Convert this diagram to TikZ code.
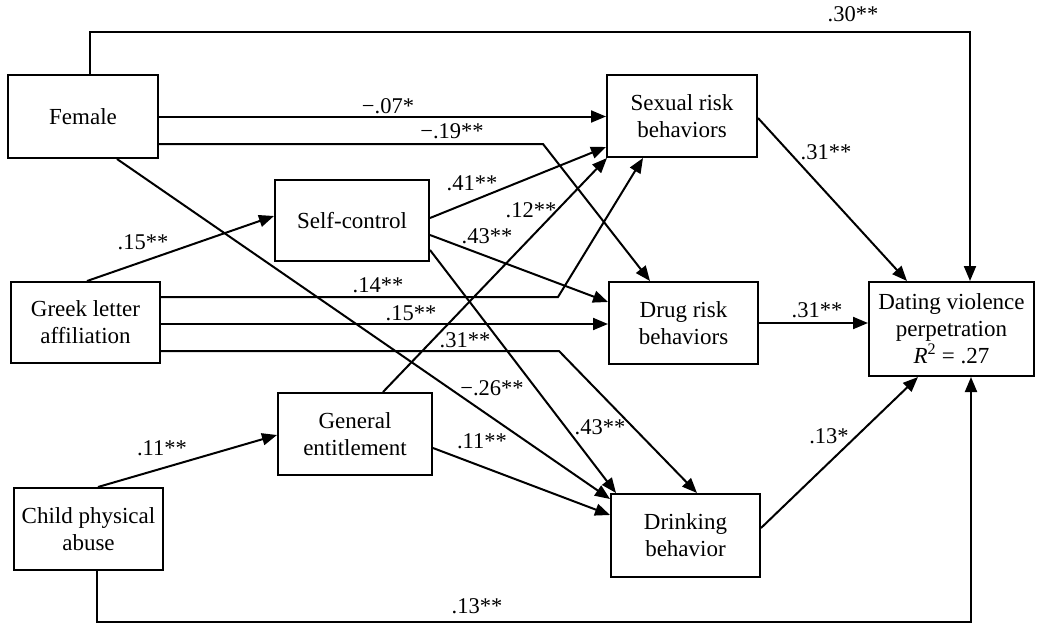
\documentclass[tikz,border=0pt]{standalone}
\usepackage{fontspec}
\setmainfont{Liberation Serif}
\usetikzlibrary{arrows.meta,calc}
\begin{document}
\begin{tikzpicture}[x=1pt,y=-1pt,
  box/.style={draw,line width=2pt,align=center,inner sep=0pt,font=\fontsize{23}{27}\selectfont},
  arr/.style={line width=2pt,-{Triangle[length=15pt,width=12pt]}},
  lbl/.style={font=\fontsize{22.5}{24}\selectfont,inner sep=0pt}]
\useasboundingbox (0,0) rectangle (1037,625);
% boxes
\node[box,minimum width=150pt,minimum height=83pt] (fem) at (83,116.5) {Female};
\node[box,minimum width=154pt,minimum height=81pt] (sc) at (352,220.5) {Self-control};
\node[box,minimum width=149pt,minimum height=81pt] (grk) at (85.5,322.5) {Greek letter\\affiliation};
\node[box,minimum width=154pt,minimum height=82pt] (ge) at (355,434) {General\\entitlement};
\node[box,minimum width=149pt,minimum height=82pt] (chd) at (88.5,529) {Child physical\\abuse};
\node[box,minimum width=150pt,minimum height=82pt] (sex) at (682,116) {Sexual risk\\behaviors};
\node[box,minimum width=149pt,minimum height=82pt] (drug) at (683.5,323) {Drug risk\\behaviors};
\node[box,minimum width=149pt,minimum height=83pt] (drink) at (685.5,535.5) {Drinking\\behavior};
\node[box,minimum width=165pt,minimum height=94pt] (dat) at (951.5,329) {Dating violence\\perpetration\\{\itshape R}\textsuperscript{2} = .27};
% connectors
\draw[arr] ($(fem.north)+(7,0)$) -- ($(fem.north)+(7,-42)$) -| ($(dat.north)+(18.5,0)$);
\draw[arr] (fem.east) -- (fem.east -| sex.west);
\draw[arr] ($(fem.east)+(0,27.5)$) -- ++(384,0) -- ($(drug.north)+(-33.5,0)$);
\draw[arr] ($(fem.south)+(34,0)$) -- ($(drink.north west)+(0,6)$);
\draw[arr] ($(grk.north)+(1.5,0)$) -- ($(sc.west)+(0,-4.5)$);
\draw[arr] ($(grk.east)+(0,-25.5)$) -- ++(397,0) -- ($(sex.south)+(-39,0)$);
\coordinate (g2) at ($(grk.east)+(0,1.5)$);
\draw[arr] (g2) -- (g2 -| drug.west);
\draw[arr] ($(grk.east)+(0,28.5)$) -- ++(398,0) -- ($(drink.north)+(11.5,0)$);
\draw[arr] ($(sc.east)+(0,-2.5)$) -- ($(sex.west)+(0,31)$);
\draw[arr] ($(sc.east)+(0,14.5)$) -- ($(drug.west)+(0,-21)$);
\draw[arr] ($(sc.east)+(0,29.5)$) -- ($(drink.north west)+(6,0)$);
\draw[arr] ($(ge.north)+(28,0)$) -- ($(sex.south west)+(1,0)$);
\draw[arr] ($(ge.east)+(0,14)$) -- ($(drink.west)+(0,-20.5)$);
\draw[arr] ($(chd.north)+(9.5,0)$) -- ($(ge.west)+(0,1)$);
\draw[arr] ($(chd.south)+(8.5,0)$) -- ($(chd.south)+(8.5,51)$) -| ($(dat.south)+(19.5,0)$);
\draw[arr] ($(sex.east)+(0,2)$) -- ($(dat.north)+(-44.5,0)$);
\draw[arr] (drug.east) -- (drug.east -| dat.west);
\draw[arr] ($(drink.east)+(0,-7.5)$) -- ($(dat.south)+(-33.5,0)$);
% labels
\node[lbl] (l1) at (853,14) {.30**};
\node[lbl] (l2) at (388,106) {−.07*};
\node[lbl] (l3) at (452,131) {−.19**};
\node[lbl] (l4) at (472,183) {.41**};
\node[lbl] (l5) at (531,210) {.12**};
\node[lbl] (l6) at (487,236) {.43**};
\node[lbl] (l7) at (143,242) {.15**};
\node[lbl] (l8) at (378,285) {.14**};
\node[lbl] (l9) at (411,313) {.15**};
\node[lbl] (l10) at (465,340) {.31**};
\node[lbl] (l11) at (492,388) {−.26**};
\node[lbl] (l12) at (600,427) {.43**};
\node[lbl] (l13) at (482,441) {.11**};
\node[lbl] (l14) at (162,448) {.11**};
\node[lbl] (l15) at (477,606) {.13**};
\node[lbl] (l16) at (826,152) {.31**};
\node[lbl] (l17) at (817,310) {.31**};
\node[lbl] (l18) at (829,436) {.13*};
\end{tikzpicture}
\end{document}
